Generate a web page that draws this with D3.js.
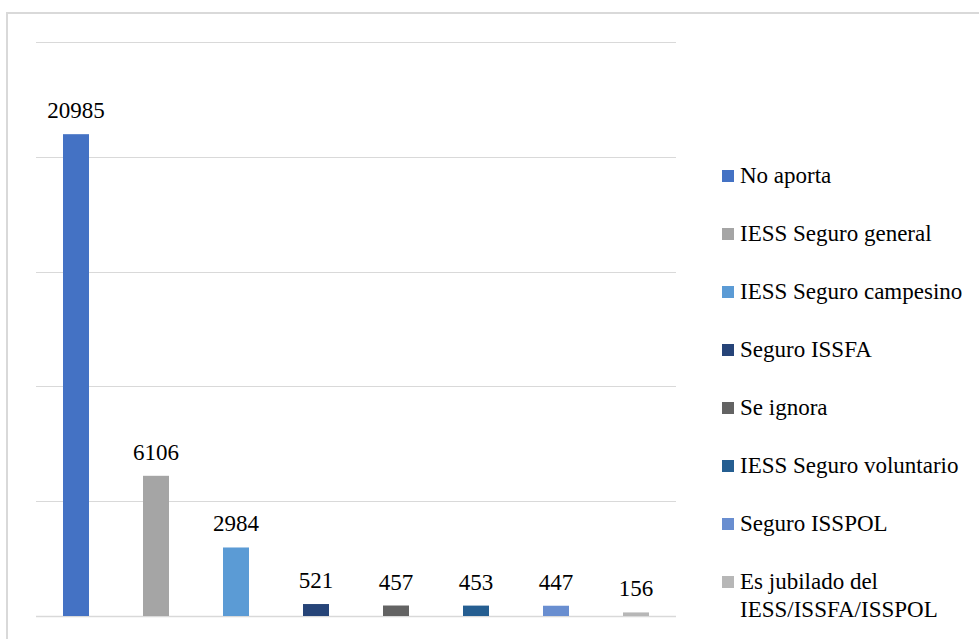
<!DOCTYPE html>
<html>
<head>
<meta charset="utf-8">
<script src="https://cdn.jsdelivr.net/npm/d3@7"></script>
<style>
  body { margin: 0; background: #fff; }
  svg { display: block; }
  svg text { font-family: "Times New Roman", "Liberation Serif", Tinos, "DejaVu Serif", serif; }
</style>
</head>
<body>
<svg></svg>
<script>
const svgWidth = 979;
const svgHeight = 639;

const categories = ["No aporta", "IESS Seguro general", "IESS Seguro campesino", "Seguro ISSFA",
	"Se ignora", "IESS Seguro voluntario", "Seguro ISSPOL", "Es jubilado del IESS/ISSFA/ISSPOL"];
const values = [20985, 6106, 2984, 521, 457, 453, 447, 156];
const colors = ["#4472C4", "#A5A5A5", "#5B9BD5", "#264478", "#636363", "#255E91", "#698ED0", "#B7B7B7"];
const yTicks = [0, 5000, 10000, 15000, 20000, 25000];

const plot = { left: 36, right: 676, top: 42, bottom: 616 };

const svg = d3.select("svg")
	.attr("width", svgWidth)
	.attr("height", svgHeight);

// outer chart border (cut by the picture on right and bottom)
svg.append("rect")
	.attr("x", 7)
	.attr("y", 13)
	.attr("width", 1000)
	.attr("height", 700)
	.attr("fill", "none")
	.attr("stroke", "#D9D9D9")
	.attr("stroke-width", 2);

let xScale = d3.scaleBand()
	.domain(categories)
	.range([plot.left, plot.right])
	.paddingInner(0.675)
	.paddingOuter(0.3375);

let yScale = d3.scaleLinear()
	.domain([0, 25000])
	.range([plot.bottom, plot.top]);

// gridlines
svg.append("g")
	.selectAll("line")
	.data(yTicks)
	.enter()
	.append("line")
	.attr("x1", plot.left)
	.attr("x2", plot.right)
	.attr("y1", d => Math.round(yScale(d)) + 0.5)
	.attr("y2", d => Math.round(yScale(d)) + 0.5)
	.attr("stroke", "#D9D9D9")
	.attr("stroke-width", d => d === 0 ? 1.5 : 1);

// bars
let bars = svg.selectAll(".bar")
	.data(values)
	.enter()
	.append("g")
	.classed("bar", true);

bars.append("rect")
	.attr("x", (d, i) => xScale(categories[i]))
	.attr("y", d => yScale(d))
	.attr("width", xScale.bandwidth())
	.attr("height", d => yScale(0) - yScale(d))
	.attr("fill", (d, i) => colors[i]);

bars.append("text")
	.text(d => d)
	.attr("x", (d, i) => xScale(categories[i]) + xScale.bandwidth() / 2)
	.attr("y", d => yScale(d) - 16)
	.attr("text-anchor", "middle")
	.attr("font-size", "23px")
	.attr("fill", "#000");

// legend
let legend = svg.append("g")
	.selectAll("g")
	.data(categories)
	.enter()
	.append("g")
	.attr("transform", (d, i) => `translate(722, ${176 + i * 58})`);

legend.append("rect")
	.attr("x", 0)
	.attr("y", -6)
	.attr("width", 12)
	.attr("height", 12)
	.attr("fill", (d, i) => colors[i]);

legend.append("text")
	.attr("x", 18)
	.attr("y", 7)
	.attr("font-size", "23px")
	.attr("fill", "#000")
	.each(function (d) {
		let t = d3.select(this);
		let lines = d.startsWith("Es jubilado") ? ["Es jubilado del", "IESS/ISSFA/ISSPOL"] : [d];
		lines.forEach((l, j) => {
			t.append("tspan")
				.attr("x", 18)
				.attr("dy", j === 0 ? 0 : 28)
				.text(l);
		});
	});
</script>
</body>
</html>
